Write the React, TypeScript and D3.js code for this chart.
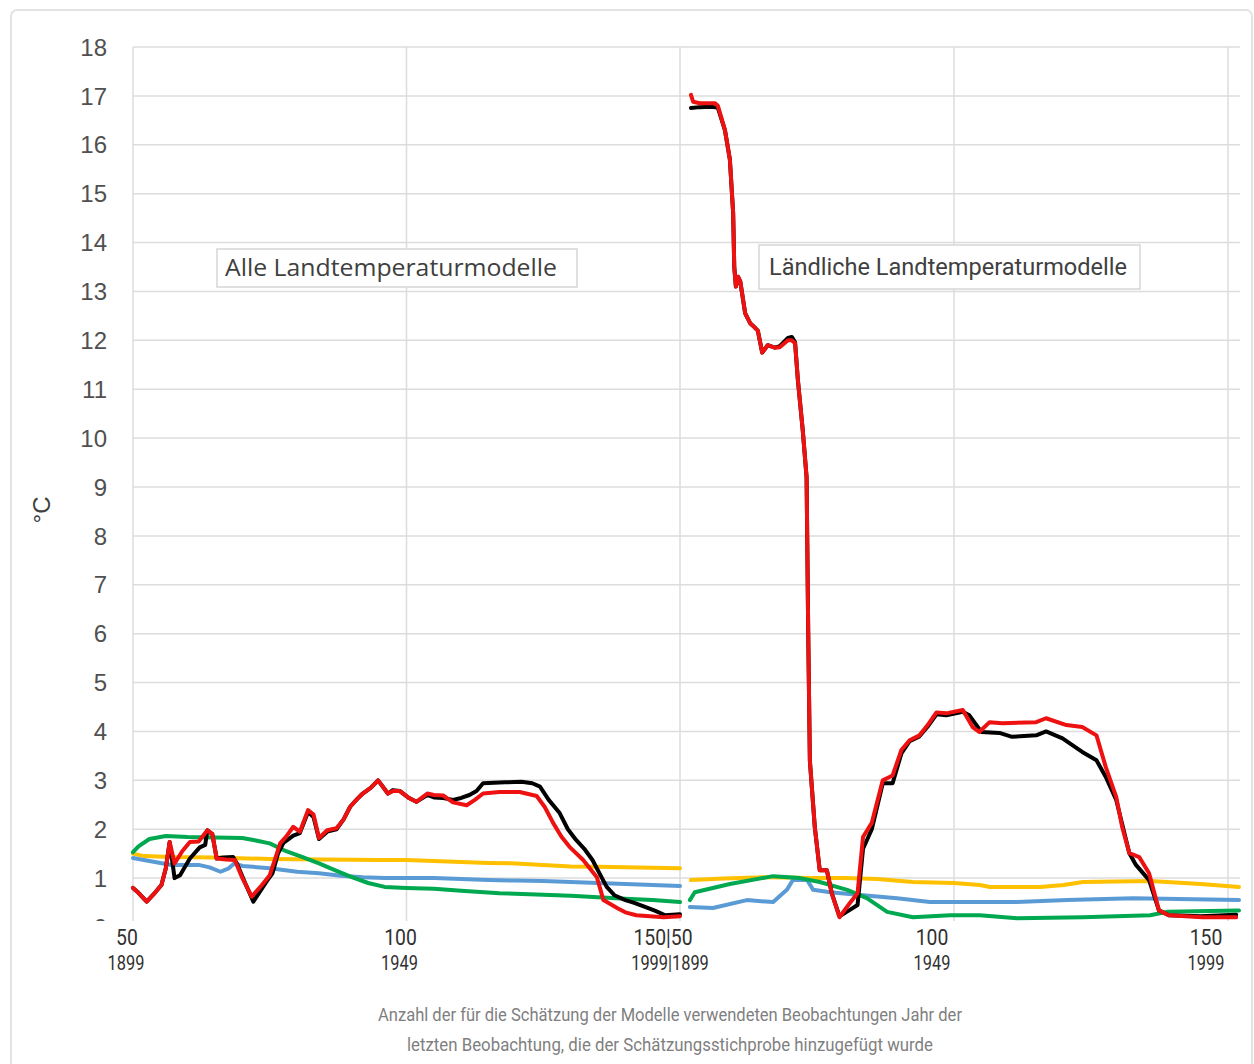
// App.tsx
import React from 'react';
import * as d3 from 'd3';

type Pt = [number, number];

// y axis ticks (°C)
const yTicks = [0, 1, 2, 3, 4, 5, 6, 7, 8, 9, 10, 11, 12, 13, 14, 15, 16, 17, 18];

// x tick labels: left panel (all models) and right panel (rural models)
const leftTicks = [50, 100, 150];
const leftTickTop = ['50', '100', '150|50'];
const leftTickBottom = ['1899', '1949', '1999|1899'];
const rightTicks = [100, 150];
const rightTickTop = ['100', '150'];
const rightTickBottom = ['1949', '1999'];

const panelTitles = ['Alle Landtemperaturmodelle', 'Ländliche Landtemperaturmodelle'];
const captionLines = [
  'Anzahl der für die Schätzung der Modelle verwendeten Beobachtungen Jahr der',
  'letzten Beobachtung, die der Schätzungsstichprobe hinzugefügt wurde',
];

// left panel series [observations, °C]
const leftRed: Pt[] = [
  [50, 0.8], [51, 0.7], [52.5, 0.52], [54, 0.7], [55.2, 0.86], [56, 1.2], [56.7, 1.74], [57.6, 1.3],
  [59, 1.55], [60.4, 1.74], [62, 1.75], [63.6, 1.98], [64.5, 1.9], [65.3, 1.4], [67, 1.38], [68.6, 1.37],
  [70, 1.0], [71.7, 0.62], [73.5, 0.85], [75, 1.06], [76, 1.4], [76.9, 1.71], [78, 1.85], [79.3, 2.05],
  [80.5, 1.95], [82, 2.39], [83, 2.3], [84, 1.82], [85.5, 1.98], [87.2, 2.02], [88.5, 2.2], [89.7, 2.46],
  [91, 2.62], [92, 2.73], [93.5, 2.85], [94.8, 3.0], [96.6, 2.73], [97.5, 2.78], [98.8, 2.78], [100.3, 2.65],
  [101.8, 2.56], [103.8, 2.73], [105, 2.7], [106.7, 2.69], [108.5, 2.55], [111, 2.49], [112.5, 2.6],
  [114, 2.73], [117, 2.76], [120.7, 2.76], [123.8, 2.68], [125.3, 2.45], [126.8, 2.13], [128.3, 1.85],
  [129.8, 1.64], [132.3, 1.37], [134.8, 1.02], [136, 0.55], [138.5, 0.39], [140, 0.3], [142, 0.24],
  [147, 0.2], [150, 0.22],
];
const leftBlack: Pt[] = [
  [50, 0.8], [51, 0.7], [52.5, 0.52], [54, 0.7], [55.2, 0.86], [56, 1.2], [56.7, 1.74], [57.6, 1.0],
  [58.6, 1.06], [60.4, 1.4], [62.2, 1.63], [63.2, 1.68], [63.6, 1.98], [64.5, 1.9], [65.3, 1.4], [66.5, 1.42],
  [68.3, 1.43], [69, 1.3], [70.5, 0.9], [72, 0.52], [74.4, 0.93], [75.5, 1.1], [76.5, 1.5], [77.5, 1.72],
  [79.3, 1.87], [80.5, 1.92], [82, 2.35], [83, 2.25], [84, 1.8], [85.5, 1.95], [87.2, 2.0], [88.5, 2.2],
  [89.7, 2.46], [91, 2.62], [92, 2.73], [93.5, 2.85], [94.8, 3.0], [96.6, 2.73], [97.5, 2.8], [98.8, 2.78],
  [100.3, 2.65], [101.8, 2.56], [103.8, 2.7], [105, 2.65], [106.7, 2.64], [108.5, 2.6], [110, 2.64],
  [111.5, 2.7], [112.8, 2.78], [114, 2.94], [118, 2.96], [121, 2.97], [123, 2.94], [124.4, 2.87],
  [126, 2.6], [128, 2.33], [129.5, 2.0], [131, 1.78], [132.5, 1.6], [134, 1.37], [135.5, 1.05],
  [136.6, 0.82], [138, 0.65], [140, 0.55], [141.5, 0.5], [143.6, 0.41], [145.5, 0.33], [147.3, 0.24],
  [150, 0.26],
];
const leftYellow: Pt[] = [
  [50, 1.5], [52, 1.45], [57, 1.43], [65, 1.42], [75, 1.39], [85, 1.38], [95, 1.37], [100, 1.37],
  [105, 1.35], [110, 1.33], [115, 1.31], [120, 1.3], [125, 1.27], [130, 1.24], [135, 1.23], [140, 1.22],
  [145, 1.21], [150, 1.2],
];
const leftBlue: Pt[] = [
  [50, 1.41], [53, 1.35], [57, 1.27], [60, 1.27], [62, 1.27], [64, 1.22], [66, 1.13], [67.5, 1.2],
  [68.5, 1.3], [70, 1.25], [75, 1.2], [80, 1.13], [84, 1.1], [88, 1.05], [92, 1.02], [96, 1.0], [100, 1.0],
  [105, 1.0], [110, 0.98], [115, 0.96], [120, 0.95], [125, 0.94], [130, 0.92], [135, 0.9], [140, 0.88],
  [145, 0.86], [150, 0.84],
];
const leftGreen: Pt[] = [
  [50, 1.53], [51, 1.65], [53, 1.8], [56, 1.86], [60, 1.84], [65, 1.83], [70, 1.82], [72, 1.78],
  [75, 1.71], [78, 1.55], [81, 1.43], [84, 1.3], [87, 1.16], [90, 1.02], [93, 0.9], [96, 0.82], [100, 0.8],
  [105, 0.78], [110, 0.74], [117, 0.69], [125, 0.66], [130, 0.64], [135, 0.61], [140, 0.58], [145, 0.55],
  [150, 0.51],
];

// right panel series
const rightRed: Pt[] = [
  [52, 17.02], [52.4, 16.88], [53.6, 16.85], [55.5, 16.85], [56.4, 16.85], [56.9, 16.8], [58.2, 16.3],
  [59.1, 15.7], [59.7, 14.6], [59.9, 13.5], [60.2, 13.1], [60.6, 13.3], [61, 13.2], [61.9, 12.55],
  [62.8, 12.35], [63.3, 12.3], [64.2, 12.2], [65, 11.75], [66, 11.9], [67.3, 11.85], [68.2, 11.86],
  [69.7, 12.0], [70.4, 12.0], [71, 11.94], [71.5, 11.2], [72.4, 10.16], [73.1, 9.2], [73.4, 6.0],
  [73.7, 3.4], [74.6, 2.04], [75.5, 1.16], [76.8, 1.16], [77.7, 0.69], [79.1, 0.2], [81, 0.49],
  [82.4, 0.69], [83.4, 1.84], [85, 2.13], [87, 3.0], [88.8, 3.1], [90.4, 3.62], [91.9, 3.82], [93.7, 3.92],
  [95.2, 4.13], [96.8, 4.39], [98.6, 4.37], [101.6, 4.44], [103.4, 4.09], [104.6, 3.99], [106.5, 4.19],
  [108.8, 4.17], [115, 4.19], [116.8, 4.27], [120.5, 4.13], [123.4, 4.09], [126, 3.92], [127.7, 3.27],
  [129.6, 2.66], [130.7, 2.04], [132, 1.51], [133.8, 1.43], [135.6, 1.1], [137.4, 0.34], [139.2, 0.24],
  [145.3, 0.2], [151.5, 0.2],
];
const rightBlack: Pt[] = [
  [52, 16.75], [53.6, 16.77], [55.5, 16.78], [56.9, 16.76], [58.2, 16.3], [59.1, 15.7], [59.7, 14.6],
  [59.9, 13.5], [60.2, 13.1], [60.6, 13.3], [61, 13.2], [61.9, 12.55], [62.8, 12.35], [63.3, 12.3],
  [64.2, 12.2], [65, 11.75], [66, 11.9], [67.3, 11.85], [68.2, 11.88], [69.7, 12.05], [70.4, 12.07],
  [71, 11.96], [71.5, 11.2], [72.4, 10.16], [73.1, 9.2], [73.4, 6.0], [73.7, 3.4], [74.6, 2.04],
  [75.5, 1.16], [76.8, 1.16], [77.7, 0.69], [79.1, 0.22], [81, 0.35], [82.4, 0.45], [83.4, 1.6],
  [85, 2.0], [87, 2.94], [88.8, 2.94], [90.4, 3.55], [91.9, 3.8], [93.7, 3.9], [95.2, 4.1], [96.8, 4.35],
  [98.6, 4.33], [101.6, 4.4], [102.8, 4.33], [105, 3.99], [108.3, 3.97], [110.6, 3.89], [115, 3.92],
  [116.8, 4.0], [119.8, 3.86], [123.4, 3.58], [126, 3.41], [127.7, 3.07], [129.6, 2.6], [132, 1.51],
  [133.2, 1.27], [135.6, 0.96], [137.4, 0.34], [139.2, 0.24], [145, 0.22], [151.5, 0.25],
];
const rightYellow: Pt[] = [
  [52, 0.96], [58, 0.99], [66, 1.02], [74, 1.0], [80, 1.0], [86, 0.98], [92.5, 0.92], [100, 0.9],
  [104.7, 0.86], [106.6, 0.82], [115.7, 0.82], [120, 0.86], [123.5, 0.92], [135.8, 0.94], [145, 0.88],
  [152, 0.82],
];
const rightBlue: Pt[] = [
  [51.8, 0.41], [56, 0.39], [62.2, 0.55], [67, 0.51], [69.5, 0.76], [70.6, 0.96], [73.2, 0.96],
  [74.3, 0.76], [77.4, 0.71], [83.4, 0.65], [89.6, 0.59], [95.6, 0.51], [104.7, 0.51], [111.5, 0.51],
  [120.6, 0.55], [132.7, 0.59], [152, 0.55],
];
const rightGreen: Pt[] = [
  [51.8, 0.55], [52.7, 0.71], [59.1, 0.88], [67, 1.04], [71.9, 1.0], [75.5, 0.92], [80.5, 0.76],
  [84.1, 0.59], [87.8, 0.31], [92.5, 0.2], [99.3, 0.24], [104.7, 0.24], [111.5, 0.18], [123.5, 0.2],
  [135.8, 0.24], [138.9, 0.31], [152, 0.34],
];

const COLORS = { yellow: '#ffc000', blue: '#5b9bd5', green: '#00a84f', black: '#000000', red: '#ee1111' };

const App = () => {
  const xLeft = d3.scaleLinear().domain([50, 150]).range([133, 680]);
  const xRight = d3.scaleLinear().domain([50, 150]).range([680, 1228]);
  const y = d3.scaleLinear().domain([0, 18]).range([927, 47]);
  const plotBottom = 921;
  const gridRight = 1240;

  const leftLine = d3.line<Pt>().x(d => xLeft(d[0])).y(d => y(d[1]));
  const rightLine = d3.line<Pt>().x(d => xRight(d[0])).y(d => y(d[1]));

  const series = [
    { l: leftYellow, r: rightYellow, c: COLORS.yellow },
    { l: leftBlue, r: rightBlue, c: COLORS.blue },
    { l: leftGreen, r: rightGreen, c: COLORS.green },
    { l: leftBlack, r: rightBlack, c: COLORS.black },
    { l: leftRed, r: rightRed, c: COLORS.red },
  ];

  const labelFont = 'Roboto, "Liberation Sans", sans-serif';

  // narrow-looking x tick label (condensed by horizontal scaling)
  const tickLabel = (key: string, x: number, yPos: number, size: number, sx: number, txt: string) => (
    <text key={key} transform={`translate(${x},${yPos}) scale(${sx},1)`} textAnchor="middle"
      fontFamily={labelFont} fontSize={size} fill="#303030">{txt}</text>
  );

  return (
    <div style={{ position: 'absolute', left: 0, top: 0 }}>
      <svg width={1254} height={1064} style={{ display: 'block', background: '#fff' }}>
        <defs>
          <clipPath id="plotClip">
            <rect x={0} y={0} width={1254} height={plotBottom} />
          </clipPath>
        </defs>
        <rect x={11} y={10} width={1241} height={1080} rx={6} fill="#fff" stroke="#e3e3e3" strokeWidth={2} />

        <g clipPath="url(#plotClip)">
          {/* horizontal grid */}
          {yTicks.map(t => (
            <line key={'h' + t} x1={xLeft(50)} x2={gridRight} y1={y(t)} y2={y(t)} stroke="#dcdcdc" strokeWidth={1.5} />
          ))}
          {/* vertical grid */}
          {leftTicks.map(t => (
            <line key={'vl' + t} x1={xLeft(t)} x2={xLeft(t)} y1={y(18)} y2={plotBottom} stroke="#dcdcdc" strokeWidth={1.5} />
          ))}
          {rightTicks.map(t => (
            <line key={'vr' + t} x1={xRight(t)} x2={xRight(t)} y1={y(18)} y2={plotBottom} stroke="#dcdcdc" strokeWidth={1.5} />
          ))}

          {/* y tick labels */}
          {yTicks.map(t => (
            <text key={'yt' + t} x={107} y={y(t)} dy="0.36em" textAnchor="end" fontFamily='"Liberation Sans", Arial, sans-serif'
              fontSize={24} fill="#505050">{t}</text>
          ))}

          {series.map((s, i) => (
            <g key={'s' + i} fill="none" stroke={s.c} strokeWidth={4} strokeLinejoin="round" strokeLinecap="round">
              <path d={leftLine(s.l) || ''} />
              <path d={rightLine(s.r) || ''} />
            </g>
          ))}
        </g>

        {/* panel annotations */}
        <rect x={217} y={249} width={360} height={38} fill="#fff" stroke="#d6d6d6" strokeWidth={1.5} />
        <text x={225} y={276} fontFamily='"Open Sans", Roboto, sans-serif' fontSize={23} fill="#404040"
          textLength={332} lengthAdjust="spacingAndGlyphs">{panelTitles[0]}</text>
        <rect x={759} y={245} width={381} height={44} fill="#fff" stroke="#d6d6d6" strokeWidth={1.5} />
        <text x={769} y={275} fontFamily='Roboto, "Open Sans", sans-serif' fontSize={24} fill="#404040"
          textLength={358} lengthAdjust="spacingAndGlyphs">{panelTitles[1]}</text>

        {/* y axis title */}
        <text transform="translate(50,510) rotate(-90)" textAnchor="middle" fontFamily='"Liberation Sans", Arial, sans-serif'
          fontSize={24} fill="#404040">°C</text>

        {/* x tick labels */}
        {leftTicks.map((t, i) => (
          <g key={'xl' + t}>
            {tickLabel('a', xLeft(t) - (i === 2 ? 17 : 6), 945, 22, 0.88, leftTickTop[i])}
            {tickLabel('b', xLeft(t) - (i === 2 ? 10 : 7), 970, 21, 0.78, leftTickBottom[i])}
          </g>
        ))}
        {rightTicks.map((t, i) => (
          <g key={'xr' + t}>
            {tickLabel('a', xRight(t) - 22, 945, 22, 0.88, rightTickTop[i])}
            {tickLabel('b', xRight(t) - 22, 970, 21, 0.78, rightTickBottom[i])}
          </g>
        ))}

        {/* caption */}
        {captionLines.map((c, i) => (
          <text key={'c' + i} x={670} y={1021 + i * 30} textAnchor="middle" fontFamily={labelFont} fontSize={18}
            fill="#7f7f7f" textLength={i === 0 ? 584 : 526} lengthAdjust="spacingAndGlyphs">{c}</text>
        ))}
      </svg>
    </div>
  );
};

export default App;
